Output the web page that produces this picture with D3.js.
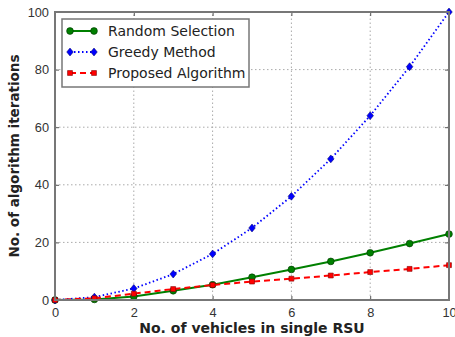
<!DOCTYPE html>
<html>
<head>
<meta charset="utf-8">
<script src="https://cdn.jsdelivr.net/npm/d3@7"></script>
<style>
  body { margin: 0; background: #fff; }
  svg { font-family: "DejaVu Sans", sans-serif; }
</style>
</head>
<body>
<script>
const vehicles = [0, 1, 2, 3, 4, 5, 6, 7, 8, 9, 10];
const randomSel = [0, 0.2, 1.2, 3.2, 5.3, 7.9, 10.6, 13.4, 16.4, 19.6, 22.9];
const greedy = [0, 1, 4, 9, 16, 25, 36, 49, 64, 81, 100];
const proposed = [0, 0.6, 2.2, 3.8, 5.2, 6.4, 7.4, 8.5, 9.7, 10.8, 12.1];
const xTicks = [0, 2, 4, 6, 8, 10];
const yTicks = [0, 20, 40, 60, 80, 100];

const width = 455;
const height = 337;
const marginLeft = 55;
const marginRight = 6;
const marginTop = 12;
const marginBottom = 37;

const svg = d3.select("body")
  .append("svg")
  .attr("width", width)
  .attr("height", height);

const x = d3.scaleLinear().domain([0, 10]).range([marginLeft, width - marginRight]);
const y = d3.scaleLinear().domain([0, 100]).range([height - marginBottom, marginTop]);

// grid
const grid = svg.append("g");
grid.selectAll(".gx")
  .data(xTicks.slice(1, -1))
  .enter()
  .append("line")
  .attr("x1", d => x(d)).attr("x2", d => x(d))
  .attr("y1", y(0)).attr("y2", y(100))
  .attr("stroke", "#aaa")
  .attr("stroke-dasharray", "1.5,2.5");
grid.selectAll(".gy")
  .data(yTicks.slice(1, -1))
  .enter()
  .append("line")
  .attr("y1", d => y(d)).attr("y2", d => y(d))
  .attr("x1", x(0)).attr("x2", x(10))
  .attr("stroke", "#aaa")
  .attr("stroke-dasharray", "1.5,2.5");

// axes, classic style with inward ticks on all sides
function styleAxis(g) {
  g.select(".domain").remove();
  g.selectAll(".tick line").attr("stroke", "#555");
  g.selectAll(".tick text").attr("fill", "#333").attr("font-size", 12.8);
}
svg.append("g")
  .attr("transform", `translate(0, ${y(0)})`)
  .call(d3.axisBottom(x).tickValues(xTicks).tickSizeInner(-4).tickPadding(8))
  .call(styleAxis);
svg.append("g")
  .attr("transform", `translate(0, ${y(100)})`)
  .call(d3.axisTop(x).tickValues(xTicks).tickSizeInner(-4).tickFormat(""))
  .call(styleAxis);
svg.append("g")
  .attr("transform", `translate(${x(0)}, 0)`)
  .call(d3.axisLeft(y).tickValues(yTicks).tickSizeInner(-4).tickPadding(6))
  .call(styleAxis);
svg.append("g")
  .attr("transform", `translate(${x(10)}, 0)`)
  .call(d3.axisRight(y).tickValues(yTicks).tickSizeInner(-4).tickFormat(""))
  .call(styleAxis);

// series
const series = [
  { name: "Random Selection", values: randomSel, color: "#008000", dash: null, marker: "circle" },
  { name: "Greedy Method", values: greedy, color: "#0000ff", dash: "1.5,2.5", marker: "diamond" },
  { name: "Proposed Algorithm", values: proposed, color: "#ff0000", dash: "6,4", marker: "square" }
];

const line = d3.line()
  .x((d, i) => x(vehicles[i]))
  .y(d => y(d));

function drawMarker(g, type, color, cx, cy) {
  let sym;
  if (type === "circle") sym = d3.symbol().type(d3.symbolCircle).size(36);
  else if (type === "diamond") sym = d3.symbol().type(d3.symbolDiamond).size(22);
  else sym = d3.symbol().type(d3.symbolSquare).size(24);
  const p = g.append("path")
    .attr("d", sym())
    .attr("transform", type === "diamond"
      ? `translate(${cx},${cy}) scale(1.3,0.9)`
      : `translate(${cx},${cy})`)
    .attr("fill", color)
    .attr("stroke", type === "square" ? "#800000" : "#003300")
    .attr("stroke-width", 0.6);
  if (type === "diamond") p.attr("stroke", "#000066").attr("stroke-width", 0.5);
  return p;
}

const plot = svg.append("g");
series.forEach(s => {
  plot.append("path")
    .datum(s.values)
    .attr("d", line)
    .attr("fill", "none")
    .attr("stroke", s.color)
    .attr("stroke-width", s.marker === "diamond" ? 1.8 : 2)
    .attr("stroke-dasharray", s.dash);
  s.values.forEach((v, i) => {
    drawMarker(plot, s.marker, s.color, x(vehicles[i]), y(v));
  });
});

// frame
svg.append("rect")
  .attr("x", x(0)).attr("y", y(100))
  .attr("width", x(10) - x(0)).attr("height", y(0) - y(100))
  .attr("fill", "none")
  .attr("stroke", "#777")
  .attr("stroke-width", 2);

// legend
const legend = svg.append("g").attr("transform", "translate(62, 19)");
legend.append("rect")
  .attr("width", 187).attr("height", 68)
  .attr("fill", "#fff")
  .attr("stroke", "#777")
  .attr("stroke-width", 1.5);
series.forEach((s, i) => {
  const ly = 12 + i * 21;
  legend.append("line")
    .attr("x1", 8).attr("x2", 32)
    .attr("y1", ly).attr("y2", ly)
    .attr("stroke", s.color)
    .attr("stroke-width", 2)
    .attr("stroke-dasharray", s.dash);
  drawMarker(legend, s.marker, s.color, 8, ly);
  drawMarker(legend, s.marker, s.color, 32, ly);
  legend.append("text")
    .attr("x", 46).attr("y", ly)
    .attr("dy", "0.35em")
    .attr("font-size", 14)
    .attr("fill", "#222")
    .text(s.name);
});

// axis labels
svg.append("text")
  .attr("x", (x(0) + x(10)) / 2)
  .attr("y", 333)
  .attr("text-anchor", "middle")
  .attr("font-size", 14)
  .attr("font-weight", "bold")
  .attr("fill", "#222")
  .text("No. of vehicles in single RSU");

svg.append("text")
  .attr("transform", `translate(19, ${(y(0) + y(100)) / 2}) rotate(-90)`)
  .attr("text-anchor", "middle")
  .attr("font-size", 13.5)
  .attr("font-weight", "bold")
  .attr("fill", "#222")
  .text("No. of algorithm iterations");
</script>
</body>
</html>
